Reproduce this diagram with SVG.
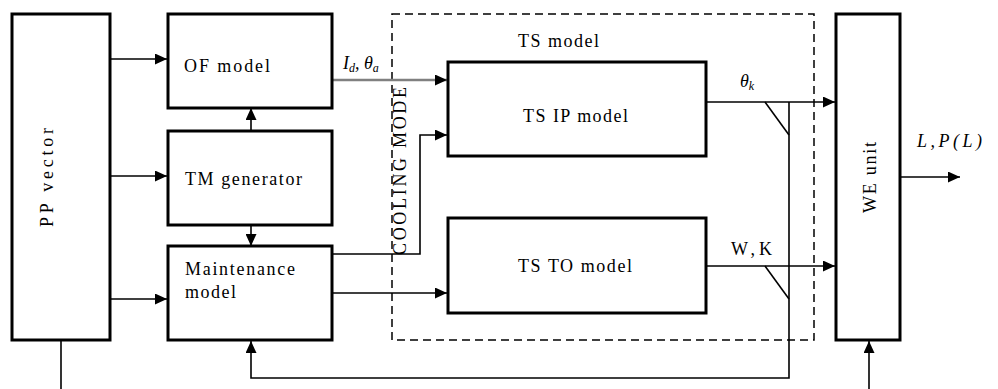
<svg xmlns="http://www.w3.org/2000/svg" width="998" height="389" viewBox="0 0 998 389">
<defs>
<style>
.box{fill:#fff;stroke:#000;stroke-width:3}
.dash{fill:none;stroke:#000;stroke-width:1.5;stroke-dasharray:8 5}
.c{fill:none;stroke:#000;stroke-width:1.6}
.t{font-size:18px;fill:#000}
.i{font-size:18px;font-style:italic;fill:#000}
</style>
<marker id="ah" markerWidth="12" markerHeight="11" refX="12" refY="5.5" orient="auto" markerUnits="userSpaceOnUse">
<path d="M0,0 L12,5.5 L0,11 z" fill="#000"/>
</marker>
</defs>
<rect width="998" height="389" fill="#fff"/>

<g font-family="'Liberation Serif', 'DejaVu Serif', serif">
<g id="ts-model-frame">
<rect class="dash" x="392" y="14" width="422" height="326"/>
<text class="t" x="518" y="47" textLength="81">TS model</text>
</g>

<g id="connectors">
<path class="c" d="M111,59 H167" marker-end="url(#ah)"/>
<path class="c" d="M111,176 H167" marker-end="url(#ah)"/>
<path class="c" d="M111,299 H167" marker-end="url(#ah)"/>
<path class="c" d="M251,130 V108" marker-end="url(#ah)"/>
<path class="c" d="M251,226 V246" marker-end="url(#ah)"/>
<path fill="none" stroke="#808080" stroke-width="2.5" d="M333,80 H447" marker-end="url(#ah)"/>
<path class="c" d="M333,254 H420 V135 H447" marker-end="url(#ah)"/>
<path class="c" d="M333,293 H447" marker-end="url(#ah)"/>
<path class="c" d="M707,102 H835" marker-end="url(#ah)"/>
<path class="c" d="M707,266 H835" marker-end="url(#ah)"/>
<path class="c" d="M765,102 L789,135"/>
<path class="c" d="M765,266 L789,299"/>
<path class="c" d="M789,102 V378 H251 V341" marker-end="url(#ah)"/>
<path class="c" d="M901,177 H960" marker-end="url(#ah)"/>
<path class="c" d="M869,389 V341" marker-end="url(#ah)"/>
<path class="c" d="M61,341 V389"/>
<text class="i" x="343" y="69">I<tspan font-size="12" dy="3">d</tspan><tspan dy="-3">, θ</tspan><tspan font-size="12" dy="3">a</tspan></text>
<text class="i" x="740" y="87">θ<tspan font-size="12" dy="3">k</tspan></text>
<text class="t" x="731" y="255" textLength="41">W,K</text>
<text class="i" x="917" y="147" textLength="65">L,P(L)</text>
</g>

<g id="pp-vector">
<rect class="box" x="12" y="14" width="98" height="326"/>
<text class="t" transform="translate(53,227) rotate(-90)" x="0" y="0" textLength="99">PP vector</text>
</g>

<g id="of-model">
<rect class="box" x="168" y="14" width="164" height="94"/>
<text class="t" x="184" y="72" textLength="86">OF model</text>
</g>

<g id="tm-generator">
<rect class="box" x="168" y="131" width="164" height="94"/>
<text class="t" x="185" y="185" textLength="117">TM generator</text>
</g>

<g id="maintenance-model">
<rect class="box" x="168" y="246" width="164" height="94"/>
<text class="t" x="185" y="275" textLength="110">Maintenance</text>
<text class="t" x="185" y="298" textLength="51">model</text>
</g>

<g id="cooling-mode">
<text class="t" transform="translate(406,255) rotate(-90)" x="0" y="0" textLength="168">COOLING MODE</text>
</g>

<g id="ts-ip-model">
<rect class="box" x="448" y="62" width="258" height="94"/>
<text class="t" x="523" y="122" textLength="105">TS IP model</text>
</g>

<g id="ts-to-model">
<rect class="box" x="448" y="218" width="258" height="95"/>
<text class="t" x="518" y="272" textLength="114">TS TO model</text>
</g>

<g id="we-unit">
<rect class="box" x="836" y="14" width="64" height="326"/>
<text class="t" transform="translate(876,213) rotate(-90)" x="0" y="0" textLength="71">WE unit</text>
</g>
</g>
</svg>
